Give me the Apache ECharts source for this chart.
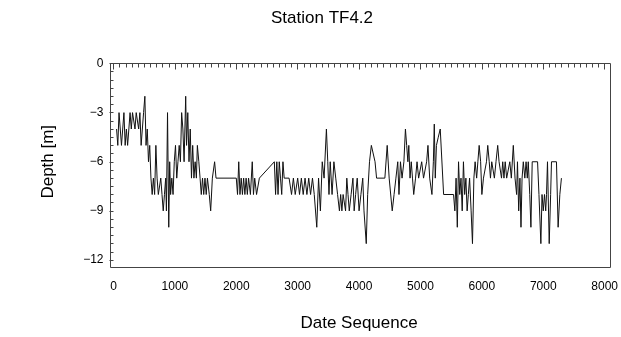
<!DOCTYPE html>
<html>
<head>
<meta charset="utf-8">
<script src="https://cdn.jsdelivr.net/npm/echarts@6/dist/echarts.min.js"></script>
<style>
html,body{margin:0;padding:0;background:#fff;}
#chart{width:621px;height:337px;}
</style>
</head>
<body>
<div id="chart"></div>
<script>
const titleText = "Station TF4.2";
const xAxisName = "Date Sequence";
const yAxisName = "Depth [m]";

const dateSeq = [
  50,70,90,110,130,150,170,190,210,230,250,270,290,310,330,350,370,390,410,430,450,470,490,511,530,550,570,590,610,630,650,670,690,710,730,750,770,790,810,830,850,862,880,900,915,930,950,970,990,1010,1030,1050,1070,1090,1110,1130,1150,1176,1190,1210,1230,1250,1270,1290,1310,1330,1350,1366,1390,1410,1430,1450,1470,1490,1510,1530,1560,1583,1610,1647,1670,
  2000,2020,2040,2060,2080,2100,2120,2140,2160,2180,2200,2230,2260,2280,2300,2330,2376,
  2620,2640,2660,2680,2700,2720,2740,2760,2780,2800,2860,2900,2930,2960,3000,3030,3060,3090,3120,3150,3180,3210,3241,3270,3311,3340,3370,3400,3430,3468,3490,3510,3530,3560,3590,3620,3650,3680,3700,3720,3740,3760,3780,3800,3820,3840,3870,3900,3920,3944,3970,4000,4030,4060,4080,4117,4140,4170,4200,4230,4260,4285,4420,4458,4490,4540,4570,4600,4630,4650,4674,4700,4730,4755,4775,4795,4810,4830,4850,4870,4890,4920,4944,4970,5000,5020,5050,5079,5100,5122,5150,5187,5210,5225,5241,5260,5290,5322,5377,5539,5560,5580,5600,5620,5640,5660,5680,5700,5720,5740,5760,5780,5800,5825,5847,5870,5890,5915,5935,5956,5980,6000,6026,6053,6075,6096,6120,6140,6161,6180,6204,6230,6258,6280,6300,6320,6340,6360,6380,6404,6431,6455,6480,6512,6540,6566,6580,6600,6620,6637,6655,6675,6700,6720,6740,6756,6780,6799,6820,6907,6930,6961,6980,7000,7020,7040,7053,7069,7097,7120,7134,7215,7242,7270,7296
];
const depth = [
  -4,-5,-3,-4,-5,-4,-3,-5,-4,-5,-4,-3,-4,-3,-3,-4,-3,-3,-4,-3,-5,-4,-3,-2,-5,-4,-6,-5,-7,-8,-7,-8,-5,-7,-8,-8,-7,-8,-9,-8,-7,-9,-3,-10,-6,-8,-7,-8,-6,-5,-7,-6,-5,-6,-3,-4,-6,-2,-5,-3,-6,-4,-7,-5,-7,-6,-7,-5,-6,-7,-8,-7,-8,-7,-8,-7,-8,-9,-7,-6,-7,
  -7,-8,-6,-8,-7,-8,-7,-8,-7,-8,-7,-8,-6,-8,-7,-8,-7,
  -6,-8,-6,-8,-6,-7,-8,-6,-7,-7,-7,-8,-7,-8,-7,-8,-7,-8,-7,-8,-7,-8,-7,-8,-10,-7,-9,-6,-7,-4,-6,-8,-6,-8,-6,-7,-8,-9,-8,-9,-8,-8,-9,-7,-8,-9,-8,-7,-9,-8,-7,-9,-8,-7,-9,-11,-8,-6,-5,-5,-6,-7,-7,-5,-7,-9,-8,-7,-6,-8,-6,-7,-6,-4,-5,-6,-5,-7,-6,-7,-8,-7,-6,-7,-7,-6,-7,-7,-6,-5,-7,-8,-6,-3.7,-7,-5,-4.5,-4,-8,-8,-9,-7,-10,-6,-8,-7,-9,-6,-8,-7,-9,-8,-7,-9,-11,-7,-6,-7,-6,-5,-6,-8,-7,-7,-6,-5,-6,-7,-6,-6,-7,-6,-5,-6,-6,-7,-6,-7,-6,-7,-7,-6,-7,-5,-7,-8,-6,-9,-7,-10,-7,-6,-7,-6,-7,-6,-8,-10,-6,-6,-8,-11,-8,-9,-8,-9,-8,-6,-11,-8,-6,-6,-10,-8,-7
];
const xTicks = [0,1000,2000,3000,4000,5000,6000,7000,8000];
const yTicks = [0,-3,-6,-9,-12];

const chart = echarts.init(document.getElementById('chart'), null, {renderer:'canvas'});
const font = "'Liberation Sans', Arial, sans-serif";
const pts = dateSeq.map((x,i)=>[x, depth[i]]);
chart.setOption({
  animation:false,
  backgroundColor:'#fff',
  title:{text:titleText, left:266, top:5, textStyle:{fontFamily:font, fontSize:17, fontWeight:'normal', color:'#000'}},
  grid:{left:113.5, right:14.3, top:63.5, bottom:76.5, containLabel:false},
  graphic:[{type:'rect', shape:{x:110.5, y:63.5, width:500, height:204}, style:{fill:null, stroke:'#444', lineWidth:1}, silent:true}],
  xAxis:{type:'value', min:xTicks[0], max:xTicks[xTicks.length-1], interval:1000, offset:7,
    name:xAxisName, nameLocation:'middle', nameGap:48,
    nameTextStyle:{fontFamily:font, fontSize:17, color:'#000'},
    axisLine:{show:false},
    axisTick:{show:true, inside:false, length:6, lineStyle:{color:'#444'}},
    minorTick:{show:true, splitNumber:10, length:4, lineStyle:{color:'#444'}},
    splitLine:{show:false},
    axisLabel:{fontFamily:font, fontSize:12, color:'#000', margin:14, formatter:v=>String(v)}
  },
  yAxis:{type:'value', min:yTicks[yTicks.length-1], max:yTicks[0], interval:3, offset:3,
    name:yAxisName, nameLocation:'middle', nameGap:54, nameRotate:90,
    nameTextStyle:{fontFamily:font, fontSize:17, color:'#000'},
    axisLine:{show:false},
    axisTick:{show:true, inside:false, length:4, lineStyle:{color:'#444'}},
    minorTick:{show:true, splitNumber:6, length:3, lineStyle:{color:'#444'}},
    splitLine:{show:false},
    axisLabel:{fontFamily:font, fontSize:12, color:'#000', margin:7,
      formatter:v=> v<0 ? '\u2212'+Math.abs(v) : String(v)}
  },
  series:[{type:'line', data:pts, showSymbol:false, symbol:'none',
    lineStyle:{color:'#111', width:1}, z:3}]
});
</script>
</body>
</html>
